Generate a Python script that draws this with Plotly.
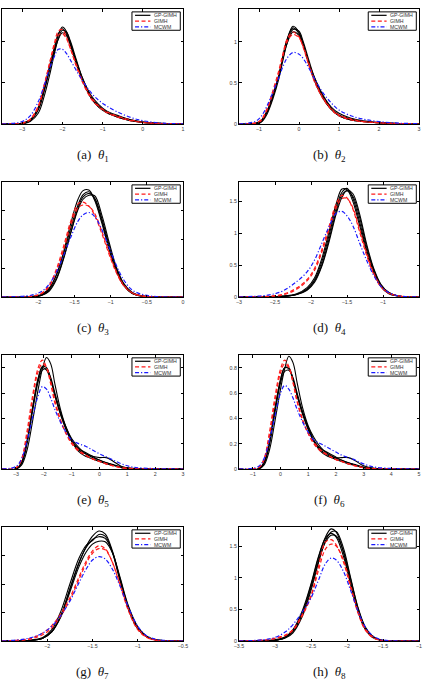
import plotly.graph_objects as go

# ---------------- data ----------------
# panel (a) theta_1
A_X = [-3.5, -3.0, -2.8, -2.6, -2.45, -2.3, -2.2, -2.1, -2.0, -1.9, -1.8, -1.65, -1.5, -1.3, -1.1, -0.9, -0.6, -0.3, 0.0, 0.5, 1.0]
A_GPGIMH = [
    [0, 0.01, 0.04, 0.17, 0.40, 0.70, 0.90, 1.08, 1.18, 1.13, 0.99, 0.75, 0.54, 0.33, 0.21, 0.14, 0.08, 0.04, 0.02, 0.005, 0],
    [0, 0.00, 0.03, 0.13, 0.34, 0.63, 0.85, 1.04, 1.14, 1.12, 1.01, 0.78, 0.56, 0.34, 0.22, 0.15, 0.09, 0.05, 0.02, 0.005, 0],
    [0, 0.01, 0.05, 0.18, 0.42, 0.70, 0.88, 1.03, 1.11, 1.08, 0.97, 0.76, 0.56, 0.36, 0.24, 0.16, 0.10, 0.05, 0.025, 0.008, 0],
    [0, 0.01, 0.05, 0.20, 0.45, 0.74, 0.93, 1.10, 1.16, 1.10, 0.96, 0.73, 0.53, 0.33, 0.21, 0.14, 0.08, 0.04, 0.02, 0.005, 0],
]
A_GIMH = [
    [0, 0.01, 0.05, 0.20, 0.47, 0.78, 0.98, 1.13, 1.15, 1.06, 0.92, 0.70, 0.51, 0.32, 0.21, 0.14, 0.08, 0.04, 0.02, 0.005, 0],
    [0, 0.01, 0.06, 0.22, 0.48, 0.76, 0.95, 1.08, 1.10, 1.04, 0.92, 0.72, 0.53, 0.34, 0.22, 0.15, 0.09, 0.05, 0.02, 0.005, 0],
]
A_MCWM = [
    [0, 0.03, 0.10, 0.27, 0.47, 0.70, 0.82, 0.91, 0.91, 0.86, 0.78, 0.65, 0.53, 0.39, 0.29, 0.22, 0.14, 0.08, 0.04, 0.01, 0.003],
]

# panel (b) theta_2
B_X = [-1.5, -1.1, -0.95, -0.8, -0.65, -0.5, -0.4, -0.3, -0.15, 0.0, 0.1, 0.25, 0.4, 0.6, 0.8, 1.0, 1.3, 1.6, 2.0, 2.5, 3.0]
B_GPGIMH = [
    [0, 0.0, 0.03, 0.15, 0.35, 0.60, 0.82, 1.02, 1.19, 1.12, 0.98, 0.73, 0.52, 0.32, 0.18, 0.10, 0.05, 0.03, 0.015, 0.005, 0],
    [0, 0.0, 0.02, 0.12, 0.31, 0.56, 0.78, 0.98, 1.15, 1.13, 1.01, 0.77, 0.55, 0.34, 0.20, 0.11, 0.06, 0.03, 0.015, 0.005, 0],
    [0, 0.01, 0.04, 0.16, 0.36, 0.60, 0.80, 0.98, 1.12, 1.08, 0.96, 0.74, 0.55, 0.35, 0.21, 0.13, 0.07, 0.04, 0.02, 0.005, 0],
    [0, 0.0, 0.03, 0.14, 0.34, 0.60, 0.83, 1.03, 1.17, 1.10, 0.97, 0.72, 0.51, 0.31, 0.18, 0.10, 0.05, 0.03, 0.015, 0.005, 0],
]
B_GIMH = [
    [0, 0.01, 0.05, 0.19, 0.41, 0.66, 0.86, 1.03, 1.12, 1.06, 0.94, 0.71, 0.50, 0.31, 0.18, 0.10, 0.05, 0.03, 0.015, 0.005, 0],
    [0, 0.01, 0.04, 0.17, 0.38, 0.63, 0.83, 1.00, 1.09, 1.05, 0.95, 0.73, 0.52, 0.32, 0.19, 0.11, 0.06, 0.03, 0.015, 0.005, 0],
]
B_MCWM = [
    [0, 0.03, 0.09, 0.22, 0.39, 0.57, 0.70, 0.80, 0.87, 0.85, 0.80, 0.68, 0.54, 0.38, 0.26, 0.17, 0.10, 0.06, 0.03, 0.01, 0.005],
]

# panel (c) theta_3
C_X = [-2.5, -2.1, -1.95, -1.85, -1.75, -1.65, -1.55, -1.45, -1.38, -1.3, -1.22, -1.12, -1.02, -0.92, -0.82, -0.7, -0.55, -0.4, -0.2, 0.0]
C_GPGIMH = [
    [0, 0.0, 0.04, 0.14, 0.38, 0.78, 1.28, 1.70, 1.85, 1.86, 1.68, 1.28, 0.82, 0.45, 0.20, 0.06, 0.01, 0, 0, 0],
    [0, 0.0, 0.03, 0.10, 0.30, 0.66, 1.12, 1.55, 1.74, 1.80, 1.72, 1.36, 0.90, 0.50, 0.23, 0.07, 0.015, 0, 0, 0],
    [0, 0.01, 0.05, 0.15, 0.38, 0.75, 1.20, 1.60, 1.78, 1.83, 1.70, 1.32, 0.85, 0.46, 0.21, 0.06, 0.01, 0, 0, 0],
    [0, 0.0, 0.03, 0.12, 0.32, 0.68, 1.12, 1.52, 1.70, 1.77, 1.76, 1.42, 0.95, 0.52, 0.24, 0.08, 0.015, 0, 0, 0],
]
C_GIMH = [
    [0, 0.01, 0.07, 0.20, 0.48, 0.88, 1.32, 1.62, 1.65, 1.58, 1.42, 1.10, 0.74, 0.42, 0.20, 0.07, 0.015, 0, 0, 0],
    [0, 0.01, 0.06, 0.18, 0.44, 0.82, 1.25, 1.55, 1.60, 1.58, 1.45, 1.14, 0.77, 0.44, 0.21, 0.07, 0.015, 0, 0, 0],
]
C_MCWM = [
    [0, 0.03, 0.10, 0.22, 0.43, 0.72, 1.04, 1.32, 1.43, 1.47, 1.40, 1.17, 0.86, 0.55, 0.30, 0.12, 0.04, 0.01, 0, 0],
]

# panel (d) theta_4
D_X = [-3.0, -2.6, -2.4, -2.2, -2.05, -1.95, -1.85, -1.75, -1.65, -1.57, -1.5, -1.42, -1.33, -1.23, -1.13, -1.03, -0.92, -0.8, -0.65, -0.5]
D_GPGIMH = [
    [0, 0, 0.01, 0.04, 0.13, 0.27, 0.55, 0.96, 1.40, 1.64, 1.70, 1.55, 1.20, 0.75, 0.40, 0.17, 0.06, 0.02, 0, 0],
    [0, 0, 0.01, 0.04, 0.11, 0.23, 0.48, 0.86, 1.30, 1.56, 1.67, 1.62, 1.32, 0.84, 0.45, 0.20, 0.07, 0.02, 0, 0],
    [0, 0, 0.01, 0.05, 0.15, 0.30, 0.60, 1.02, 1.46, 1.69, 1.68, 1.50, 1.14, 0.71, 0.38, 0.16, 0.05, 0.015, 0, 0],
    [0, 0, 0.01, 0.04, 0.12, 0.25, 0.50, 0.90, 1.34, 1.60, 1.66, 1.58, 1.27, 0.80, 0.43, 0.19, 0.07, 0.02, 0, 0],
]
D_GIMH = [
    [0, 0.01, 0.04, 0.14, 0.28, 0.45, 0.74, 1.10, 1.46, 1.59, 1.55, 1.38, 1.04, 0.66, 0.36, 0.16, 0.06, 0.02, 0, 0],
    [0, 0.01, 0.03, 0.12, 0.26, 0.42, 0.70, 1.05, 1.40, 1.54, 1.54, 1.40, 1.08, 0.70, 0.38, 0.17, 0.06, 0.02, 0, 0],
]
D_MCWM = [
    [0, 0.03, 0.09, 0.24, 0.40, 0.58, 0.84, 1.10, 1.31, 1.34, 1.27, 1.12, 0.86, 0.58, 0.34, 0.17, 0.07, 0.02, 0.005, 0],
]

# panel (e) theta_5
E_X = [-3.5, -3.0, -2.8, -2.6, -2.4, -2.2, -2.05, -1.9, -1.75, -1.6, -1.4, -1.2, -1.0, -0.75, -0.5, -0.25, 0.0, 0.25, 0.5, 0.8, 1.2, 2.0, 3.0]
E_GPGIMH = [
    [0, 0.0, 0.03, 0.15, 0.38, 0.63, 0.79, 0.88, 0.83, 0.67, 0.47, 0.33, 0.24, 0.17, 0.12, 0.09, 0.07, 0.05, 0.03, 0.01, 0.003, 0, 0],
    [0, 0.0, 0.05, 0.22, 0.48, 0.71, 0.80, 0.78, 0.70, 0.58, 0.44, 0.33, 0.23, 0.15, 0.12, 0.10, 0.09, 0.09, 0.06, 0.02, 0.005, 0, 0],
    [0, 0.0, 0.04, 0.20, 0.46, 0.69, 0.78, 0.79, 0.72, 0.60, 0.45, 0.32, 0.22, 0.14, 0.10, 0.08, 0.06, 0.04, 0.03, 0.01, 0.003, 0, 0],
    [0, 0.0, 0.05, 0.22, 0.49, 0.72, 0.81, 0.80, 0.71, 0.58, 0.43, 0.31, 0.22, 0.16, 0.13, 0.10, 0.07, 0.05, 0.035, 0.015, 0.004, 0, 0],
]
E_GIMH = [
    [0, 0.01, 0.08, 0.30, 0.58, 0.80, 0.86, 0.80, 0.67, 0.52, 0.38, 0.28, 0.20, 0.14, 0.11, 0.08, 0.06, 0.04, 0.025, 0.01, 0.003, 0, 0],
    [0, 0.01, 0.07, 0.27, 0.55, 0.77, 0.83, 0.80, 0.69, 0.54, 0.39, 0.28, 0.21, 0.15, 0.11, 0.08, 0.06, 0.04, 0.025, 0.01, 0.003, 0, 0],
]
E_MCWM = [
    [0, 0.02, 0.08, 0.22, 0.41, 0.58, 0.65, 0.63, 0.56, 0.47, 0.37, 0.29, 0.23, 0.20, 0.18, 0.15, 0.12, 0.095, 0.07, 0.04, 0.015, 0.003, 0],
]

# panel (f) theta_6
F_X = [-1.5, -0.8, -0.6, -0.4, -0.2, 0.0, 0.15, 0.3, 0.45, 0.6, 0.8, 1.0, 1.2, 1.45, 1.7, 1.95, 2.2, 2.45, 2.7, 3.0, 3.4, 4.2, 5.0]
F_GPGIMH = [
    [0, 0.0, 0.03, 0.15, 0.38, 0.63, 0.79, 0.89, 0.84, 0.68, 0.48, 0.34, 0.25, 0.17, 0.12, 0.09, 0.07, 0.05, 0.03, 0.01, 0.003, 0, 0],
    [0, 0.0, 0.05, 0.21, 0.47, 0.70, 0.80, 0.79, 0.70, 0.58, 0.44, 0.33, 0.23, 0.15, 0.11, 0.09, 0.09, 0.09, 0.065, 0.025, 0.005, 0, 0],
    [0, 0.0, 0.04, 0.19, 0.45, 0.68, 0.77, 0.78, 0.72, 0.60, 0.45, 0.32, 0.22, 0.14, 0.10, 0.08, 0.06, 0.04, 0.03, 0.01, 0.003, 0, 0],
    [0, 0.0, 0.05, 0.22, 0.48, 0.71, 0.80, 0.80, 0.71, 0.58, 0.43, 0.31, 0.22, 0.16, 0.13, 0.10, 0.07, 0.05, 0.035, 0.015, 0.004, 0, 0],
]
F_GIMH = [
    [0, 0.01, 0.08, 0.29, 0.57, 0.79, 0.86, 0.81, 0.68, 0.53, 0.38, 0.28, 0.20, 0.14, 0.11, 0.08, 0.06, 0.04, 0.025, 0.01, 0.003, 0, 0],
    [0, 0.01, 0.07, 0.26, 0.54, 0.76, 0.83, 0.80, 0.69, 0.54, 0.39, 0.28, 0.21, 0.15, 0.11, 0.08, 0.06, 0.04, 0.025, 0.01, 0.003, 0, 0],
]
F_MCWM = [
    [0, 0.02, 0.08, 0.23, 0.42, 0.60, 0.66, 0.63, 0.56, 0.47, 0.37, 0.29, 0.23, 0.20, 0.17, 0.14, 0.11, 0.09, 0.07, 0.04, 0.015, 0.003, 0],
]

# panel (g) theta_7
G_X = [-2.5, -2.2, -2.05, -1.95, -1.85, -1.75, -1.65, -1.57, -1.5, -1.43, -1.36, -1.28, -1.2, -1.1, -1.0, -0.9, -0.8, -0.7, -0.6, -0.5]
G_GPGIMH = [
    [0, 0.01, 0.05, 0.16, 0.44, 0.90, 1.36, 1.66, 1.84, 1.93, 1.88, 1.58, 1.10, 0.55, 0.22, 0.07, 0.02, 0.005, 0, 0],
    [0, 0.01, 0.06, 0.20, 0.52, 1.00, 1.45, 1.68, 1.76, 1.87, 1.84, 1.55, 1.08, 0.54, 0.21, 0.07, 0.02, 0.005, 0, 0],
    [0, 0.01, 0.05, 0.17, 0.45, 0.92, 1.38, 1.64, 1.78, 1.83, 1.80, 1.56, 1.12, 0.58, 0.24, 0.08, 0.02, 0.005, 0, 0],
    [0, 0.01, 0.05, 0.16, 0.42, 0.86, 1.30, 1.56, 1.70, 1.75, 1.74, 1.55, 1.14, 0.60, 0.25, 0.08, 0.02, 0.005, 0, 0],
]
G_GIMH = [
    [0, 0.04, 0.14, 0.27, 0.48, 0.76, 1.12, 1.40, 1.58, 1.67, 1.62, 1.38, 1.00, 0.52, 0.20, 0.06, 0.015, 0, 0, 0],
    [0, 0.03, 0.11, 0.23, 0.44, 0.72, 1.08, 1.36, 1.54, 1.62, 1.60, 1.38, 1.02, 0.55, 0.22, 0.07, 0.015, 0, 0, 0],
]
G_MCWM = [
    [0, 0.05, 0.14, 0.26, 0.45, 0.70, 1.02, 1.26, 1.42, 1.48, 1.44, 1.26, 0.98, 0.58, 0.26, 0.09, 0.03, 0.01, 0, 0],
]

# panel (h) theta_8
H_X = [-3.5, -3.1, -2.95, -2.85, -2.75, -2.62, -2.5, -2.4, -2.3, -2.22, -2.15, -2.05, -1.95, -1.85, -1.75, -1.65, -1.55, -1.4, -1.2, -1.0]
H_GPGIMH = [
    [0, 0.0, 0.02, 0.06, 0.16, 0.45, 0.88, 1.30, 1.64, 1.77, 1.72, 1.40, 0.92, 0.48, 0.20, 0.07, 0.02, 0, 0, 0],
    [0, 0.0, 0.02, 0.05, 0.13, 0.39, 0.80, 1.22, 1.58, 1.72, 1.73, 1.47, 1.00, 0.54, 0.23, 0.08, 0.02, 0, 0, 0],
    [0, 0.01, 0.03, 0.07, 0.18, 0.48, 0.90, 1.32, 1.62, 1.70, 1.64, 1.34, 0.90, 0.47, 0.19, 0.06, 0.015, 0, 0, 0],
    [0, 0.0, 0.02, 0.06, 0.15, 0.42, 0.84, 1.25, 1.56, 1.67, 1.66, 1.42, 0.98, 0.53, 0.22, 0.08, 0.02, 0, 0, 0],
]
H_GIMH = [
    [0, 0.02, 0.06, 0.10, 0.18, 0.42, 0.72, 1.16, 1.56, 1.60, 1.52, 1.25, 0.84, 0.45, 0.18, 0.06, 0.015, 0, 0, 0],
    [0, 0.02, 0.05, 0.09, 0.17, 0.40, 0.70, 1.10, 1.45, 1.53, 1.50, 1.28, 0.88, 0.48, 0.20, 0.07, 0.015, 0, 0, 0],
]
H_MCWM = [
    [0, 0.03, 0.08, 0.15, 0.26, 0.46, 0.68, 0.95, 1.22, 1.31, 1.28, 1.10, 0.80, 0.48, 0.23, 0.09, 0.03, 0.005, 0, 0],
]

LEGEND_NAMES = ["GP-GIMH", "GIMH", "MCWM"]
CAPTION_LETTERS = ["a", "b", "c", "d", "e", "f", "g", "h"]

# ---------------- layout configuration ----------------
W, H = 424, 684
panels = [
    dict(x=A_X, k=A_GPGIMH, r=A_GIMH, b=A_MCWM, xr=[-3.5, 1], yr=[0, 1.4], dx=1, dy=0.5),
    dict(x=B_X, k=B_GPGIMH, r=B_GIMH, b=B_MCWM, xr=[-1.5, 3], yr=[0, 1.4], dx=1, dy=0.5),
    dict(x=C_X, k=C_GPGIMH, r=C_GIMH, b=C_MCWM, xr=[-2.5, 0], yr=[0, 2.0], dx=0.5, dy=0.5),
    dict(x=D_X, k=D_GPGIMH, r=D_GIMH, b=D_MCWM, xr=[-3, -0.5], yr=[0, 1.8], dx=0.5, dy=0.5),
    dict(x=E_X, k=E_GPGIMH, r=E_GIMH, b=E_MCWM, xr=[-3.5, 3], yr=[0, 0.9], dx=1, dy=0.2),
    dict(x=F_X, k=F_GPGIMH, r=F_GIMH, b=F_MCWM, xr=[-1.5, 5], yr=[0, 0.9], dx=1, dy=0.2),
    dict(x=G_X, k=G_GPGIMH, r=G_GIMH, b=G_MCWM, xr=[-2.5, -0.5], yr=[0, 2.0], dx=0.5, dy=0.5),
    dict(x=H_X, k=H_GPGIMH, r=H_GIMH, b=H_MCWM, xr=[-3.5, -1], yr=[0, 1.8], dx=0.5, dy=0.5),
]

col_px = [(2, 183), (239, 419)]
row_px = [(9, 124), (182, 297), (355, 469), (527, 641)]

BLACK = "#000000"
RED = "#ff1a1a"
BLUE = "#1a1aff"
RED_DASH = "4px,2.5px"
BLUE_DASH = "4px,2px,1.2px,2px"

fig = go.Figure()
annotations = []
shapes = []
tick_font = dict(family="Liberation Sans", size=5.3, color="#3a3a3a")

for i, p in enumerate(panels):
    n = i + 1
    sfx = "" if n == 1 else str(n)
    xa, ya = "x" + sfx, "y" + sfx
    c, r = i % 2, i // 2
    x0, x1 = col_px[c]
    t0, t1 = row_px[r]
    dom_x = [x0 / W, x1 / W]
    dom_y = [1 - t1 / H, 1 - t0 / H]

    for ys in p["k"]:
        fig.add_trace(go.Scatter(x=p["x"], y=ys, mode="lines", xaxis=xa, yaxis=ya,
                                 line=dict(color=BLACK, width=1.1, shape="spline", smoothing=1.0),
                                 showlegend=False, hoverinfo="skip"))
    for ys in p["r"]:
        fig.add_trace(go.Scatter(x=p["x"], y=ys, mode="lines", xaxis=xa, yaxis=ya,
                                 line=dict(color=RED, width=1.2, dash=RED_DASH, shape="spline", smoothing=1.0),
                                 showlegend=False, hoverinfo="skip"))
    for ys in p["b"]:
        fig.add_trace(go.Scatter(x=p["x"], y=ys, mode="lines", xaxis=xa, yaxis=ya,
                                 line=dict(color=BLUE, width=1.2, dash=BLUE_DASH, shape="spline", smoothing=1.0),
                                 showlegend=False, hoverinfo="skip"))

    axcommon = dict(showline=True, linecolor="black", linewidth=1, mirror="ticks",
                    ticks="inside", ticklen=2.5, tickwidth=0.8, tickcolor="black",
                    showgrid=False, zeroline=False, tickfont=tick_font, automargin=False)
    fig.layout["xaxis" + sfx] = dict(domain=dom_x, range=p["xr"], anchor=ya, dtick=p["dx"],
                                     tick0=0, **axcommon)
    fig.layout["yaxis" + sfx] = dict(domain=dom_y, range=p["yr"], anchor=xa, dtick=p["dy"],
                                     tick0=0, **axcommon)

    xd = xa + " domain"
    yd = ya + " domain"
    # legend box
    shapes.append(dict(type="rect", xref=xd, yref=yd, x0=0.718, x1=0.985, y0=0.815, y1=0.975,
                       line=dict(color="black", width=1), fillcolor="white", layer="above"))
    leg_y = [0.945, 0.895, 0.845]
    styles = [(BLACK, "solid", 1.2), (RED, RED_DASH, 1.2), (BLUE, BLUE_DASH, 1.2)]
    for j in range(3):
        col, dsh, wd = styles[j]
        shapes.append(dict(type="line", xref=xd, yref=yd, x0=0.735, x1=0.82, y0=leg_y[j], y1=leg_y[j],
                           line=dict(color=col, width=wd, dash=dsh), layer="above"))
        annotations.append(dict(xref=xd, yref=yd, x=0.83, y=leg_y[j], text=LEGEND_NAMES[j],
                                showarrow=False, xanchor="left", yanchor="middle",
                                font=dict(family="Liberation Sans", size=5.2, color="#333333")))
    # caption
    cap_px = t1 + 31
    annotations.append(dict(xref=xd, yref="paper", x=0.5, y=1 - cap_px / H,
                            text="(%s)  <i>θ</i><sub>%d</sub>" % (CAPTION_LETTERS[i], n),
                            showarrow=False, xanchor="center", yanchor="middle",
                            font=dict(family="Liberation Serif", size=13, color="#111111")))

fig.update_layout(width=W, height=H, margin=dict(l=0, r=0, t=0, b=0),
                  paper_bgcolor="white", plot_bgcolor="white",
                  showlegend=False, annotations=annotations, shapes=shapes)

fig.write_html("out.html")
